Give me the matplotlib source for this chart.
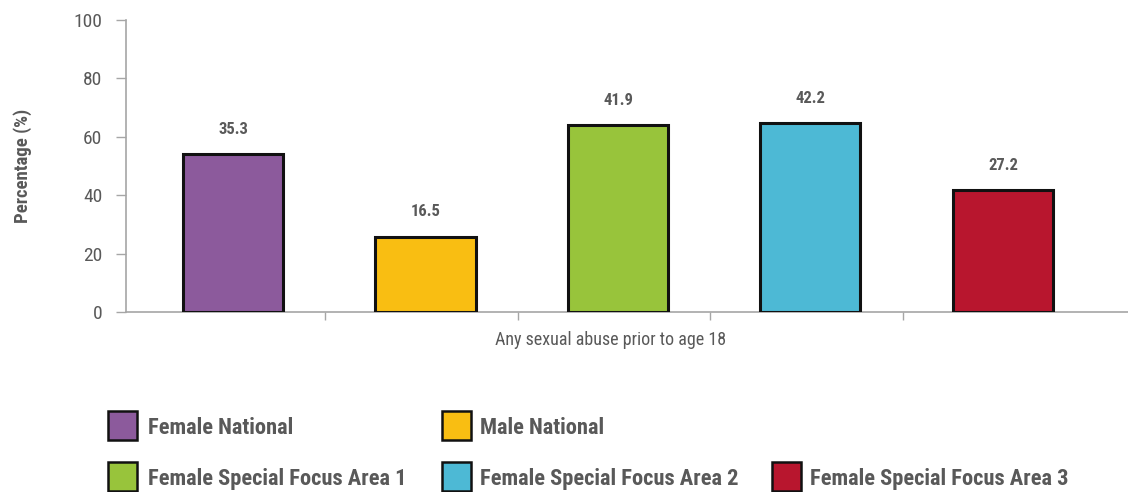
import matplotlib
matplotlib.use("Agg")
import matplotlib.pyplot as plt
from matplotlib.patches import Rectangle

# ===============================
# DATA
# ===============================
categories   = ["Female National", "Male National", "Female Special Focus Area 1",
                "Female Special Focus Area 2", "Female Special Focus Area 3"]
value_labels = [35.3, 16.5, 41.9, 42.2, 27.2]      # numbers printed above the bars
bar_heights  = [54.0, 25.8, 64.0, 64.6, 41.6]      # bar tops as read on the y axis
colors       = ["#8C5A9C", "#F9BE12", "#98C43B", "#4DB9D5", "#B8162E"]
x_label      = "Any sexual abuse prior to age 18"
y_label      = "Percentage (%)"
y_ticks      = [0, 20, 40, 60, 80, 100]

# legend grid: (row, column) of each category
legend_slots = [(0, 0), (0, 1), (1, 0), (1, 1), (1, 2)]

# ===============================
# STYLE
# ===============================
plt.rcParams['font.family'] = ['Roboto Condensed', 'DejaVu Sans']
txt_color  = "#595959"
axis_color = "#A6A6A6"

fig = plt.figure(figsize=(11.28, 4.92), dpi=100)
ax = fig.add_axes([0.1117, 0.366, 0.8883, 0.5933])

xs = list(range(len(categories)))
ax.bar(xs, bar_heights, width=0.52, color=colors, edgecolor="#111111",
       linewidth=2.2, zorder=3)
for x, h, v in zip(xs, bar_heights, value_labels):
    ax.text(x, h + 6, f"{v:.1f}", ha="center", va="bottom", fontsize=12,
            fontweight="bold", color=txt_color)

ax.set_xlim(-0.556, 4.65)
ax.set_ylim(0, 100)
ax.set_yticks(y_ticks)
ax.set_xticks([0.48, 1.48, 2.48, 3.48])
ax.set_xticklabels([])
ax.tick_params(axis="y", colors=axis_color, labelcolor=txt_color, labelsize=14,
               length=7, width=1, pad=10)
ax.tick_params(axis="x", colors=axis_color, length=6, width=1)
for s in ["top", "right"]:
    ax.spines[s].set_visible(False)
for s in ["left", "bottom"]:
    ax.spines[s].set_color(axis_color)
    ax.spines[s].set_linewidth(1.2)

ax.set_ylabel(y_label, fontsize=13.5, fontweight="bold", color=txt_color, labelpad=30)
fig.text(0.541, 0.309, x_label, ha="center", va="center", fontsize=13,
         color=txt_color)

# ===============================
# LEGEND (manual grid)
# ===============================
sq_x   = [108, 442, 772]    # pixel x of square left edge per column
txt_x  = [148, 480, 810]    # pixel x of label start per column
row_y  = [425, 476]         # pixel y of row centre
sq     = 29
W, H   = 1128, 492
for name, c, (r, col) in zip(categories, colors, legend_slots):
    yc = row_y[r]
    fig.patches.append(Rectangle((sq_x[col] / W, (H - yc - sq / 2) / H), sq / W, sq / H,
                                 transform=fig.transFigure, facecolor=c,
                                 edgecolor="#111111", linewidth=1.8))
    fig.text(txt_x[col] / W, (H - yc) / H, name, ha="left", va="center_baseline",
             fontsize=16.2, fontweight="bold", color=txt_color)

fig.savefig("out.png", dpi=100)
